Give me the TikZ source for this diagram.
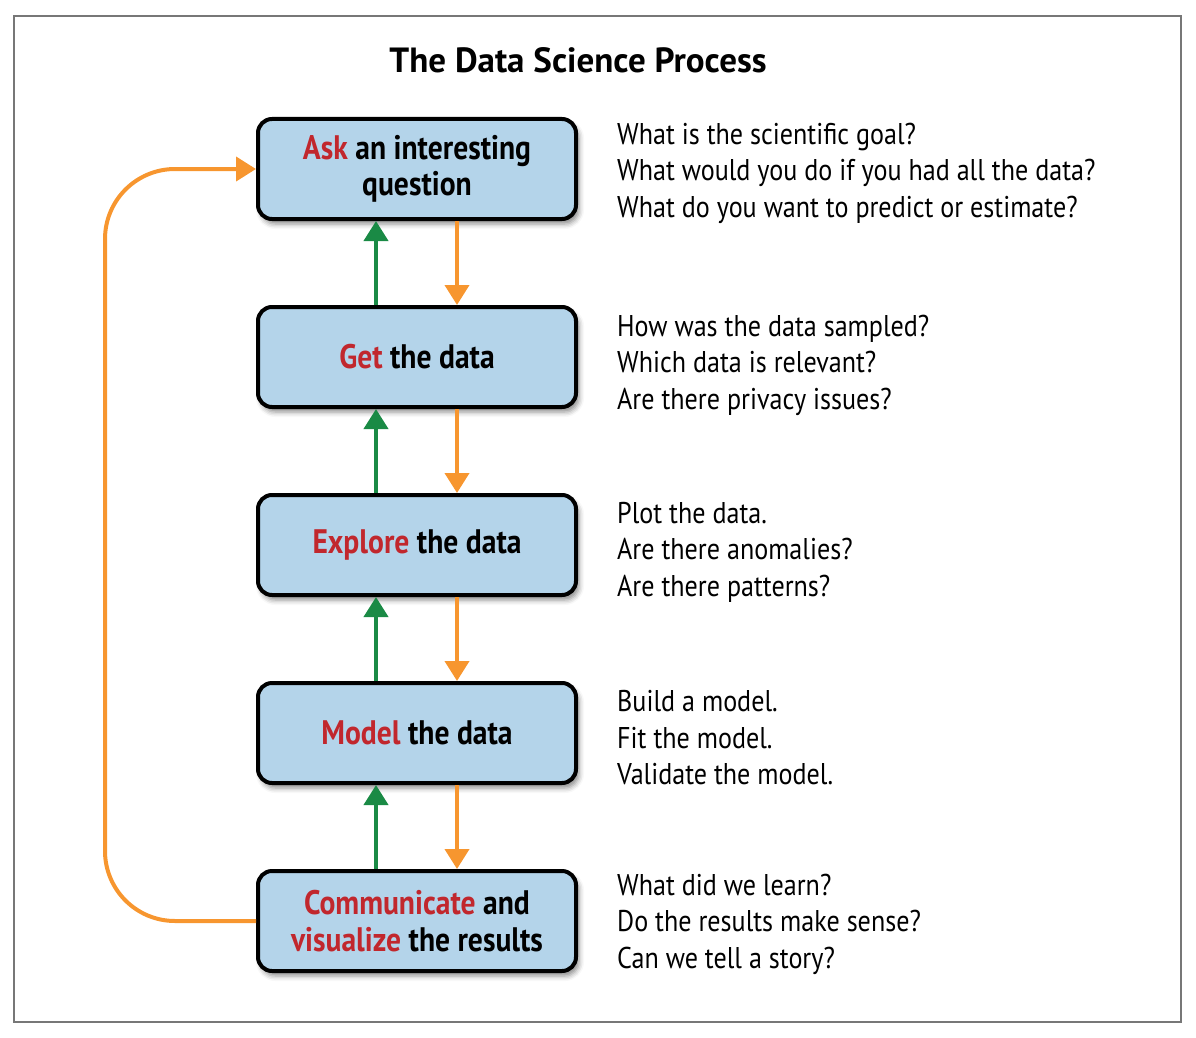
\documentclass[tikz,border=0pt]{standalone}
\usepackage{fontspec}
\setmainfont{PT Sans}[FakeStretch=0.87]
\newfontfamily\titlefont{PT Sans}
\usetikzlibrary{arrows.meta,shadows.blur}

\definecolor{boxblue}{HTML}{B4D4EA}
\definecolor{keyred}{HTML}{C1272D}
\definecolor{upgreen}{HTML}{1A8A45}
\definecolor{loopor}{HTML}{F7962F}
\definecolor{framegray}{HTML}{777777}

\tikzset{
  stage/.style={draw=black, line width=4pt, fill=boxblue, rounded corners=14pt,
    minimum width=318pt, minimum height=100pt, align=center,
    font=\fontsize{34}{36.5}\selectfont\bfseries,
    blur shadow={shadow xshift=3pt, shadow yshift=-5pt, shadow blur radius=5pt, shadow opacity=45}},
  notes/.style={anchor=west, align=left, inner sep=0pt,
    font=\fontsize{30}{36.5}\selectfont},
  uparrow/.style={draw=upgreen, line width=4pt, -{Triangle[width=24pt,length=20pt]}},
  downarrow/.style={draw=loopor, line width=4pt, -{Triangle[width=24pt,length=20pt]}}
}
\newcommand{\kw}[1]{\textcolor{keyred}{#1}}

\begin{document}
\begin{tikzpicture}[x=1pt, y=-1pt]
  \useasboundingbox (0,0) rectangle (1196,1038);
  \draw[framegray, line width=2pt] (14,16) rectangle (1181,1022);

  \node[font=\titlefont\fontsize{35}{40}\selectfont\bfseries] (title) at (578,60) {The Data Science Process};

  \node[stage] (b1) at (417,169) {\kw{Ask} an interesting\\question};
  \node[stage] (b2) at (417,357) {\kw{Get} the data};
  \node[stage] (b3) at (417,545) {\kw{Explore} the data};
  \node[stage] (b4) at (417,733) {\kw{Model} the data};
  \node[stage] (b5) at (417,921) {\kw{Communicate} and\\\kw{visualize} the results};

  \node[notes] (n1) at (617,173) {What is the scientific goal?\\What would you do if you had all the data?\\What do you want to predict or estimate?};
  \node[notes] (n2) at (617,365) {How was the data sampled?\\Which data is relevant?\\Are there privacy issues?};
  \node[notes] (n3) at (617,552) {Plot the data.\\Are there anomalies?\\Are there patterns?};
  \node[notes] (n4) at (617,738) {Build a model.\\Fit the model.\\Validate the model.};
  \node[notes] (n5) at (617,924) {What did we learn?\\Do the results make sense?\\Can we tell a story?};

  \foreach \a/\b in {b1/b2, b2/b3, b3/b4, b4/b5} {
    \draw[uparrow] ([xshift=-41pt]\b.north) -- ([xshift=-41pt]\a.south);
    \draw[downarrow] ([xshift=40pt]\a.south) -- ([xshift=40pt]\b.north);
  }

  \coordinate (lx) at (105,0);
  \draw[downarrow, rounded corners=70pt] (b5.west) -- (b5.west -| lx) -- (b1.west -| lx) -- (b1.west);
\end{tikzpicture}
\end{document}
